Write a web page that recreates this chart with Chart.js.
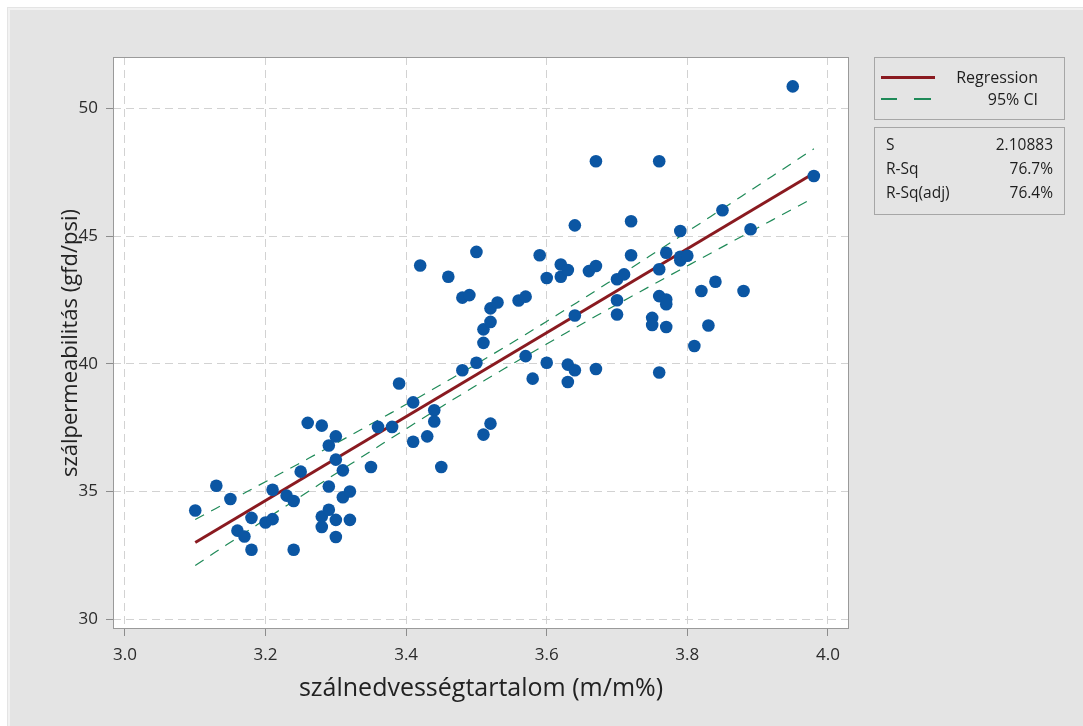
<!DOCTYPE html>
<html>
<head>
<meta charset="utf-8">
<script src="https://cdn.jsdelivr.net/npm/chart.js@4.4.1/dist/chart.umd.min.js"></script>
<style>
  body { margin: 0; background: #fff; }
  #wrap { position: relative; width: 1083px; height: 726px; }
  #myChart { position: absolute; left: 0; top: 0; }
  .box {
    position: absolute;
    border: 1px solid #a6a6a6;
    font-family: "Open Sans", sans-serif;
    color: #1e1e1e;
    box-sizing: border-box;
  }
  .row { position: absolute; left: 0; right: 0; height: 22px; line-height: 22px; }
  .row .name { position: absolute; left: 11px; }
  .row .val { position: absolute; right: 11px; }
  .sample { position: absolute; height: 0; }
</style>
</head>
<body>
<div id="wrap">
  <canvas id="myChart" width="1083" height="726"></canvas>
  <div class="box" id="legendBox" style="left:874px; top:57px; width:191px; height:63px; font-size:16px;"></div>
  <div class="box" id="statsBox" style="left:874px; top:127px; width:191px; height:88px; font-size:15.5px;"></div>
</div>
<script>
// szálnedvességtartalom (m/m%)
const moisture = [
  3.10, 3.13, 3.15, 3.16, 3.17, 3.18, 3.18, 3.20, 3.21, 3.21,
  3.23, 3.24, 3.24, 3.25, 3.26, 3.28, 3.28, 3.28, 3.29, 3.29,
  3.29, 3.30, 3.30, 3.30, 3.30, 3.31, 3.31, 3.32, 3.32, 3.35,
  3.36, 3.38, 3.39, 3.41, 3.41, 3.42, 3.43, 3.44, 3.44, 3.45,
  3.46, 3.48, 3.48, 3.49, 3.50, 3.50, 3.51, 3.51, 3.51, 3.52,
  3.52, 3.52, 3.53, 3.56, 3.57, 3.57, 3.58, 3.59, 3.60, 3.60,
  3.62, 3.62, 3.63, 3.63, 3.63, 3.64, 3.64, 3.64, 3.66, 3.67,
  3.67, 3.67, 3.70, 3.70, 3.70, 3.71, 3.72, 3.72, 3.75, 3.75,
  3.76, 3.76, 3.76, 3.76, 3.77, 3.77, 3.77, 3.77, 3.79, 3.79,
  3.79, 3.80, 3.81, 3.82, 3.83, 3.84, 3.85, 3.88, 3.89, 3.95,
  3.98
];
// szálpermeabilitás (gfd/psi)
const permeability = [
  34.26, 35.23, 34.71, 33.47, 33.24, 33.97, 32.72, 33.79, 33.92, 35.07,
  34.84, 34.63, 32.72, 35.78, 37.69, 37.58, 34.02, 33.61, 36.80, 35.20,
  34.29, 37.16, 36.25, 33.89, 33.22, 35.83, 34.78, 35.00, 33.89, 35.96,
  37.53, 37.53, 39.23, 38.49, 36.95, 43.85, 37.16, 38.18, 37.74, 35.96,
  43.41, 39.75, 42.59, 42.69, 40.04, 44.38, 40.82, 37.23, 41.35, 37.66,
  42.17, 41.64, 42.40, 42.48, 42.63, 40.30, 39.42, 44.25, 43.36, 40.04,
  43.89, 43.41, 43.67, 39.97, 39.29, 45.42, 41.89, 39.75, 43.63, 43.83,
  47.93, 39.80, 43.31, 42.49, 41.93, 43.50, 45.58, 44.25, 41.80, 41.52,
  47.93, 43.70, 42.65, 39.66, 42.52, 42.33, 41.44, 44.35, 45.20, 44.19,
  44.05, 44.23, 40.70, 42.85, 41.50, 43.21, 46.01, 42.85, 45.27, 50.86,
  47.35
];

const xTicks = [3.0, 3.2, 3.4, 3.6, 3.8, 4.0];
const yTicks = [30, 35, 40, 45, 50];

const legendItems = ["Regression", "95% CI"];
const statNames = ["S", "R-Sq", "R-Sq(adj)"];
const statValues = ["2.10883", "76.7%", "76.4%"];

const BG = "#e4e4e4";
const DOT = "#0b56a3";
const FIT = "#8a1a20";
const CI = "#1f8a58";
const TEXT = "#2b2b2b";

// least squares fit + 95% confidence band for the mean
function fitLine(xs, ys) {
  const n = xs.length;
  const mx = xs.reduce((a, b) => a + b, 0) / n;
  const my = ys.reduce((a, b) => a + b, 0) / n;
  let sxx = 0, sxy = 0;
  for (let i = 0; i < n; i++) {
    sxx += (xs[i] - mx) ** 2;
    sxy += (xs[i] - mx) * (ys[i] - my);
  }
  const b = sxy / sxx;
  const a = my - b * mx;
  let sse = 0;
  for (let i = 0; i < n; i++) sse += (ys[i] - a - b * xs[i]) ** 2;
  const s = Math.sqrt(sse / (n - 2));
  return { a, b, s, n, mx, sxx };
}

const fit = fitLine(moisture, permeability);
const xMin = Math.min(...moisture);
const xMax = Math.max(...moisture);
const T975 = 1.984;

const fitPts = [xMin, xMax].map(x => ({ x, y: fit.a + fit.b * x }));
const upperPts = [];
const lowerPts = [];
for (let k = 0; k <= 60; k++) {
  const x = xMin + (xMax - xMin) * k / 60;
  const yh = fit.a + fit.b * x;
  const half = T975 * fit.s * Math.sqrt(1 / fit.n + (x - fit.mx) ** 2 / fit.sxx);
  upperPts.push({ x, y: yh + half });
  lowerPts.push({ x, y: yh - half });
}

const frame = {
  id: "frame",
  beforeDraw(chart) {
    const { ctx, chartArea: a } = chart;
    ctx.save();
    ctx.fillStyle = BG;
    ctx.fillRect(7, 7, chart.width - 7, chart.height - 7);
    ctx.strokeStyle = "#f2f2f2";
    ctx.lineWidth = 2;
    ctx.strokeRect(9, 9, chart.width, chart.height);
    ctx.fillStyle = "#fff";
    ctx.fillRect(a.left, a.top, a.right - a.left, a.bottom - a.top);
    ctx.restore();
  },
  afterDraw(chart) {
    const { ctx, chartArea: a } = chart;
    ctx.save();
    ctx.strokeStyle = "#9a9a9a";
    ctx.lineWidth = 1;
    ctx.strokeRect(a.left + 0.5, a.top + 0.5, a.right - a.left - 1, a.bottom - a.top - 1);
    ctx.restore();
  }
};

const grid = {
  color: "#d2d2d2",
  tickBorderDash: [],
  tickColor: "#8c8c8c",
  tickLength: 7,
  lineWidth: 1
};
// in v4 the grid line dash lives under border.dash
const border = { display: false, dash: [8, 5] };

const ctx = document.getElementById("myChart").getContext("2d");

new Chart(ctx, {
  type: "scatter",
  data: {
    datasets: [
      {
        label: "data",
        data: moisture.map((x, i) => ({ x, y: permeability[i] })),
        backgroundColor: DOT,
        borderColor: DOT,
        pointRadius: 6.3,
        borderWidth: 0
      },
      {
        label: legendItems[0],
        data: fitPts,
        showLine: true,
        borderColor: FIT,
        borderWidth: 3,
        pointRadius: 0
      },
      {
        label: legendItems[1],
        data: upperPts,
        showLine: true,
        borderColor: CI,
        borderWidth: 1.2,
        borderDash: [10, 8],
        pointRadius: 0
      },
      {
        label: legendItems[1],
        data: lowerPts,
        showLine: true,
        borderColor: CI,
        borderWidth: 1.2,
        borderDash: [10, 8],
        pointRadius: 0
      }
    ]
  },
  options: {
    responsive: false,
    animation: false,
    events: [],
    layout: { padding: { top: 57, right: 234, left: 0, bottom: 0 } },
    plugins: {
      legend: { display: false },
      tooltip: { enabled: false }
    },
    scales: {
      x: {
        type: "linear",
        min: 2.983,
        max: 4.030,
        afterBuildTicks: s => { s.ticks = xTicks.map(v => ({ value: v })); },
        afterFit: s => { s.height = 97; },
        border,
        grid,
        ticks: {
          color: TEXT,
          padding: 9,
          font: { family: "Open Sans", size: 17 },
          callback: v => v.toFixed(1)
        },
        title: {
          display: true,
          text: "szálnedvességtartalom (m/m%)",
          color: "#222",
          font: { family: "Open Sans", size: 25 },
          padding: { top: 0, bottom: 22 }
        }
      },
      y: {
        type: "linear",
        min: 29.62,
        max: 52.01,
        afterBuildTicks: s => { s.ticks = yTicks.map(v => ({ value: v })); },
        afterFit: s => { s.width = 113; },
        border,
        grid,
        ticks: {
          color: TEXT,
          padding: 8,
          font: { family: "Open Sans", size: 17 },
          callback: v => String(v)
        },
        title: {
          display: true,
          text: "szálpermeabilitás (gfd/psi)",
          color: "#222",
          font: { family: "Open Sans", size: 22 },
          padding: { top: 58, bottom: 0 }
        }
      }
    }
  },
  plugins: [frame]
});

// legend and summary boxes
const legendBox = document.getElementById("legendBox");
legendItems.forEach((label, i) => {
  const row = document.createElement("div");
  row.className = "row";
  row.style.top = (8 + i * 22) + "px";
  const sample = i === 0
    ? `<span class="sample" style="left:6px; width:54px; top:10px; border-top:3px solid ${FIT}"></span>`
    : `<span class="sample" style="left:6px; width:16px; top:10px; border-top:2px solid ${CI}"></span>` +
      `<span class="sample" style="left:39px; width:17px; top:10px; border-top:2px solid ${CI}"></span>`;
  row.innerHTML = `${sample}<span class="val" style="right:26px">${label}</span>`;
  legendBox.appendChild(row);
});

const statsBox = document.getElementById("statsBox");
statNames.forEach((name, i) => {
  const row = document.createElement("div");
  row.className = "row";
  row.style.top = (5 + i * 24) + "px";
  row.innerHTML = `<span class="name">${name}</span><span class="val">${statValues[i]}</span>`;
  statsBox.appendChild(row);
});
</script>
</body>
</html>
